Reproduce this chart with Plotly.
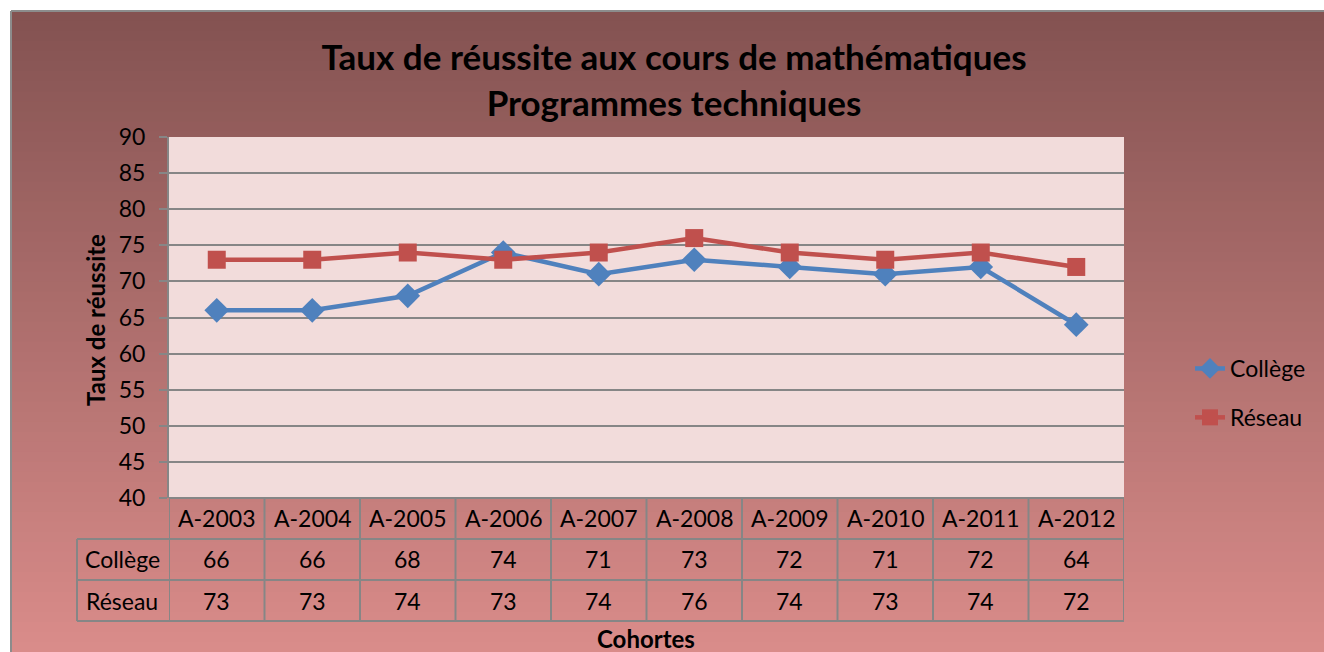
import plotly.graph_objects as go

categories = ["A-2003", "A-2004", "A-2005", "A-2006", "A-2007",
              "A-2008", "A-2009", "A-2010", "A-2011", "A-2012"]
college = [66, 66, 68, 74, 71, 73, 72, 71, 72, 64]
reseau = [73, 73, 74, 73, 74, 76, 74, 73, 74, 72]
series_names = ["Collège", "Réseau"]
y_ticks = list(range(40, 91, 5))

W, H = 1324, 652
L, R, T, B = 169, 1124, 137, 498
pw, ph = R - L, B - T

def px_x(px):
    return (px - L) / pw

def px_y(py):
    return (B - py) / ph

FONT = "Lato"
GRID = "#868686"

fig = go.Figure()
fig.add_trace(go.Scatter(
    x=categories, y=college, name=series_names[0], mode="lines+markers",
    line=dict(color="#4F81BD", width=4.5),
    marker=dict(symbol="diamond", size=19, color="#4F81BD"),
    legendgroup="a"))
fig.add_trace(go.Scatter(
    x=categories, y=reseau, name=series_names[1], mode="lines+markers",
    line=dict(color="#C0504D", width=4.5),
    marker=dict(symbol="square", size=18, color="#C0504D"),
    legendgroup="b"))

shapes = []
top_c = (131, 82, 81)
bot_c = (218, 140, 138)
y0px, y1px = 11, 652
n = 64
for i in range(n):
    a = y0px + (y1px - y0px) * i / n
    b = y0px + (y1px - y0px) * (i + 1) / n + 1
    t = (i + 0.5) / n
    c = tuple(int(round(top_c[k] + (bot_c[k] - top_c[k]) * t)) for k in range(3))
    shapes.append(dict(type="rect", xref="paper", yref="paper",
                       x0=px_x(11), x1=px_x(W + 5), y0=px_y(a), y1=px_y(b),
                       fillcolor="rgb(%d,%d,%d)" % c, line=dict(width=0), layer="below"))
shapes.append(dict(type="line", xref="paper", yref="paper", x0=px_x(11), x1=px_x(W + 5),
                   y0=px_y(11), y1=px_y(11), line=dict(color="#8C8C8C", width=2), layer="below"))
shapes.append(dict(type="line", xref="paper", yref="paper", x0=px_x(11), x1=px_x(11),
                   y0=px_y(11), y1=px_y(H + 5), line=dict(color="#8C8C8C", width=2), layer="below"))
shapes.append(dict(type="rect", xref="paper", yref="paper", x0=0, x1=1, y0=0, y1=1,
                   fillcolor="#F2DCDB", line=dict(width=0), layer="below"))

row_y = [B, 539, 580, 621]
for i, py in enumerate(row_y):
    x0 = L if i == 0 else 77
    shapes.append(dict(type="line", xref="paper", yref="paper", x0=px_x(x0), x1=1,
                       y0=px_y(py), y1=px_y(py), line=dict(color=GRID, width=2)))
for k in range(len(categories) + 1):
    shapes.append(dict(type="line", xref="x", yref="paper", x0=k - 0.5, x1=k - 0.5,
                       y0=px_y(B), y1=px_y(621), line=dict(color=GRID, width=2)))
shapes.append(dict(type="line", xref="paper", yref="paper", x0=px_x(77), x1=px_x(77),
                   y0=px_y(539), y1=px_y(621), line=dict(color=GRID, width=2)))

annotations = []
cell_font = dict(family=FONT, size=23, color="black")

def ann(**kw):
    d = dict(showarrow=False, xanchor="center", yanchor="middle")
    d.update(kw)
    annotations.append(d)

for i, cat in enumerate(categories):
    ann(x=cat, y=px_y(518), xref="x", yref="paper", text=cat, font=cell_font)
    ann(x=cat, y=px_y(559), xref="x", yref="paper", text=str(college[i]), font=cell_font)
    ann(x=cat, y=px_y(601), xref="x", yref="paper", text=str(reseau[i]), font=cell_font)
ann(x=px_x(122), y=px_y(559), xref="paper", yref="paper", text=series_names[0], font=cell_font)
ann(x=px_x(122), y=px_y(601), xref="paper", yref="paper", text=series_names[1], font=cell_font)
ann(x=px_x(95), y=px_y(320), xref="paper", yref="paper", text="<b>Taux de réussite</b>",
    textangle=-90, font=dict(family=FONT, size=24, color="black"))
ann(x=px_x(646), y=px_y(638), xref="paper", yref="paper", text="<b>Cohortes</b>",
    font=dict(family=FONT, size=24, color="black"))

fig.update_layout(
    width=W, height=H,
    margin=dict(l=L, r=W - R, t=T, b=H - B, autoexpand=False),
    paper_bgcolor="white",
    plot_bgcolor="rgba(0,0,0,0)",
    title=dict(text="<b>Taux de réussite aux cours de mathématiques<br>Programmes techniques</b>",
               x=674 / W, xanchor="center", y=1 - 70 / H, yanchor="middle",
               font=dict(family=FONT, size=35, color="black")),
    xaxis=dict(type="category", categoryorder="array", categoryarray=categories,
               range=[-0.5, len(categories) - 0.5], showticklabels=False,
               showgrid=False, zeroline=False, showline=False, ticks=""),
    yaxis=dict(range=[40, 90], tickvals=y_ticks, showgrid=True, gridcolor=GRID, gridwidth=1.5,
               zeroline=False, showline=True, linecolor=GRID, linewidth=2,
               ticks="outside", ticklen=8, tickcolor=GRID, tickwidth=2,
               ticklabelstandoff=9,
               tickfont=dict(family=FONT, size=23, color="black")),
    legend=dict(x=px_x(1190), y=px_y(347), xanchor="left", yanchor="top",
                bgcolor="rgba(0,0,0,0)", font=dict(family=FONT, size=23, color="black"),
                traceorder="grouped", tracegroupgap=16),
    shapes=shapes,
    annotations=annotations,
)

fig.write_html("out.html", post_script="document.body.style.margin='0';",
               config={"displayModeBar": False})
